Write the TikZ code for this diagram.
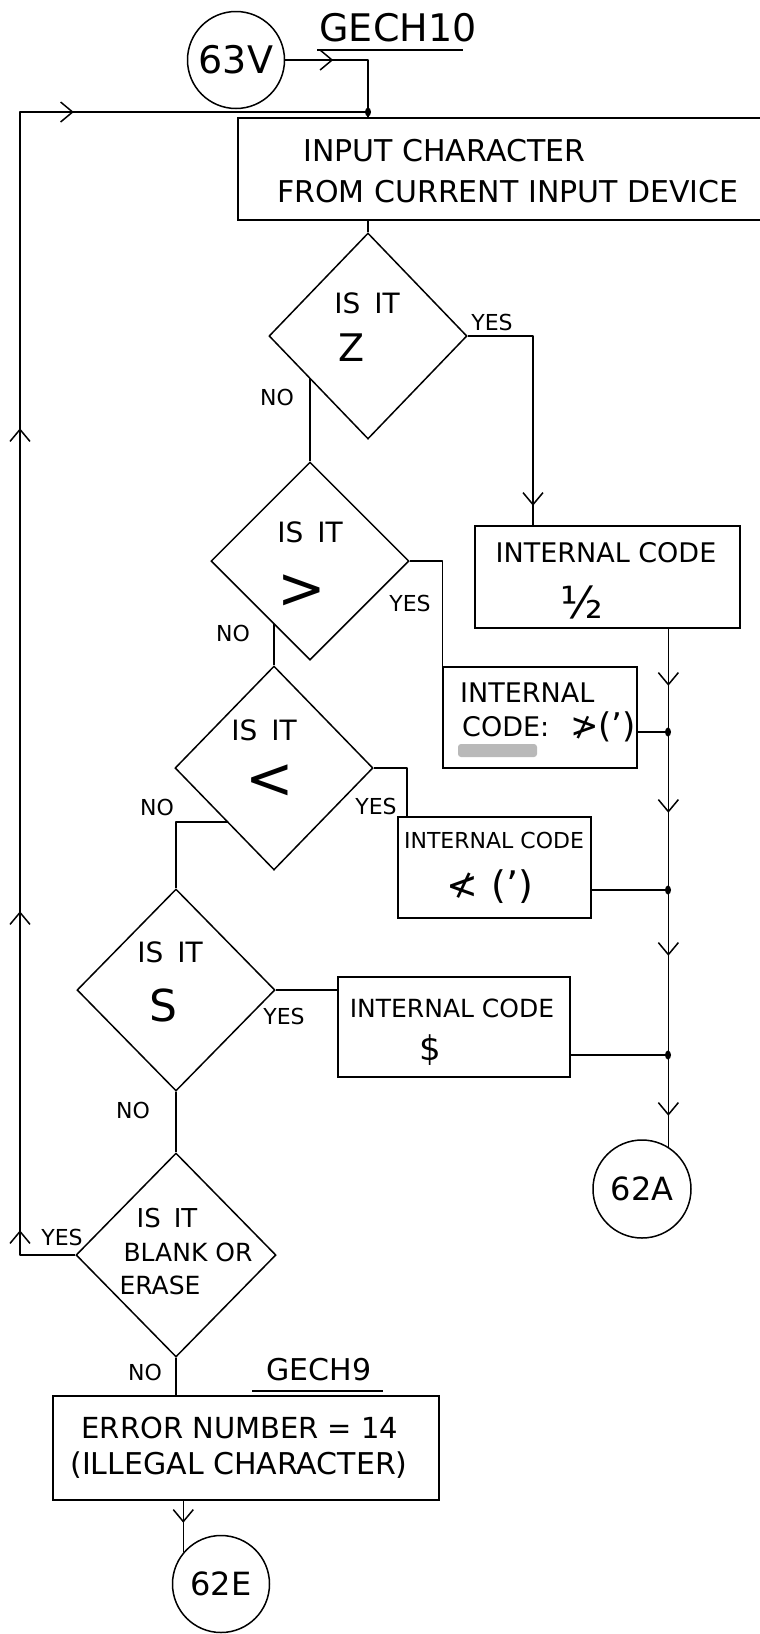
\documentclass[tikz,border=0pt]{standalone}
\usepackage{fontspec}
\setmainfont{DejaVu Sans}
\usetikzlibrary{shapes.geometric,arrows.meta,decorations.markings,backgrounds,calc}
\tikzset{
  bb/.tip={Straight Barb[length=12pt,width=20pt]},
  ln/.style={line width=1.5pt, line join=round},
  box/.style={draw, line width=1.5pt, fill=white, rectangle, inner sep=0pt},
  dia/.style={draw, line width=1.5pt, fill=white, diamond, inner sep=0pt, minimum width=198pt},
  conn/.style={draw, line width=1.5pt, circle, inner sep=0pt, fill=white},
  txt/.style={inner sep=0pt, font=\fontsize{28}{30}\selectfont},
  lbl/.style={inner sep=0pt, font=\fontsize{22}{24}\selectfont},
  jdot/.style={fill, ellipse, inner sep=0pt, minimum width=6pt, minimum height=9pt},
  arrowsat/.style={postaction={decorate}, decoration={markings,#1}}
}
\begin{document}
\begin{tikzpicture}[x=1pt,y=-1pt]
\useasboundingbox (0,0) rectangle (760,1634);

% ---------- nodes ----------
\node[conn, minimum size=97pt, font=\fontsize{38}{40}\selectfont] (c63) at (236,60) {63V};
\node[txt, font=\fontsize{38}{40}\selectfont] (gech10) at (398,28) {GECH10};
\coordinate (u1a) at (317,50);
\coordinate (u1b) at (463,50);

\node[box, minimum width=537pt, minimum height=102pt] (b1) at (506.5,169) {};
\node[txt, anchor=west, font=\fontsize{30}{32}\selectfont] (t1a) at (303,151) {INPUT CHARACTER};
\node[txt, anchor=west, font=\fontsize{30}{32}\selectfont] (t1b) at (277,192) {FROM CURRENT INPUT DEVICE};

\coordinate (jt) at (368,60);
\coordinate (lt) at (20,112);
\node[jdot] (j0) at (368,112) {};

% decision 1
\node[dia, minimum height=206pt] (d1) at (368,336) {};
\node[txt] (d1a) at (367,303) {IS\enspace IT};
\node[txt, font=\fontsize{38}{40}\selectfont] (d1b) at (352,348) {Z};
\node[lbl] (y1) at (492,322) {YES};
\node[lbl] (n1) at (277,397) {NO};
\coordinate (y1c) at (533,336);

\node[box, minimum width=265pt, minimum height=102pt] (b2) at (607.5,577) {};
\node[txt, font=\fontsize{27}{29}\selectfont] (b2a) at (606,553) {INTERNAL CODE};
\node[txt, font=\fontsize{44}{46}\selectfont] (b2b) at (582,602) {½};

% decision 2
\node[dia, minimum height=198pt] (d2) at (310,561) {};
\node[txt] (d2a) at (310,532) {IS\enspace IT};
\node[txt, font=\fontsize{58}{60}\selectfont] (d2b) at (302,592) {>};
\node[lbl] (y2) at (410,603) {YES};
\node[lbl] (n2) at (233,633) {NO};

\node[box, minimum width=194pt, minimum height=101pt] (b3) at (540,717.5) {};
\node[txt, anchor=west, font=\fontsize{27}{29}\selectfont] (b3a) at (460,693) {INTERNAL};
\node[txt, anchor=west, font=\fontsize{27}{29}\selectfont] (b3b) at (462,727) {CODE:};
\node[txt, font=\fontsize{34}{36}\selectfont] (b3c) at (603,727) {≯(')};
\fill[gray!55, rounded corners=3pt] (458,744) rectangle (537,757);

% decision 3
\node[dia, minimum height=204pt] (d3) at (274,768) {};
\node[txt] (d3a) at (264,730) {IS\enspace IT};
\node[txt, font=\fontsize{58}{60}\selectfont] (d3b) at (270,782) {<};
\node[lbl] (y3) at (376,806) {YES};
\node[lbl] (n3) at (157,807) {NO};
\coordinate (y3c) at (407,768);

\node[box, minimum width=193pt, minimum height=101pt] (b4) at (494.5,867.5) {};
\node[txt, font=\fontsize{22}{24}\selectfont] (b4a) at (494,840) {INTERNAL CODE};
\node[txt, font=\fontsize{38}{40}\selectfont] (b4b) at (490,887) {≮\,\,(')};

% decision 4
\node[dia, minimum height=202pt] (d4) at (176,990) {};
\node[txt] (d4a) at (170,952) {IS\enspace IT};
\node[txt, font=\fontsize{44}{46}\selectfont] (d4b) at (163,1005) {S};
\node[lbl] (y4) at (284,1016) {YES};
\node[lbl] (n4) at (133,1110) {NO};

\node[box, minimum width=232pt, minimum height=100pt] (b5) at (454,1027) {};
\node[txt, font=\fontsize{25}{27}\selectfont] (b5a) at (452,1008) {INTERNAL CODE};
\node[txt, font=\fontsize{34}{36}\selectfont] (b5b) at (430,1050) {\$};

\node[conn, minimum size=98pt, font=\fontsize{32}{34}\selectfont] (c62A) at (642,1189) {62A};

\node[jdot] (j1) at (668,732) {};
\node[jdot] (j2) at (668,890) {};
\node[jdot] (j3) at (668,1055) {};

% decision 5
\node[dia, minimum width=200pt, minimum height=204pt] (d5) at (176,1255) {};
\node[txt, font=\fontsize{26}{28}\selectfont] (d5a) at (167,1218) {IS\enspace IT};
\node[txt, font=\fontsize{25}{27}\selectfont] (d5b) at (188,1252) {BLANK OR};
\node[txt, font=\fontsize{25}{27}\selectfont] (d5c) at (160,1285) {ERASE};
\node[lbl] (y5) at (62,1237) {YES};
\node[lbl] (n5) at (145,1372) {NO};

\node[txt, font=\fontsize{30}{32}\selectfont] (gech9) at (319,1370) {GECH9};
\coordinate (u2a) at (252,1391);
\coordinate (u2b) at (383,1391);

\node[box, minimum width=386pt, minimum height=104pt] (err) at (246,1448) {};
\node[txt, font=\fontsize{29}{31}\selectfont] (e1) at (240,1428) {ERROR NUMBER = 14};
\node[txt, font=\fontsize{30}{32}\selectfont] (e2) at (239,1465) {(ILLEGAL CHARACTER)};

\node[conn, minimum size=97pt, font=\fontsize{32}{34}\selectfont] (c62E) at (221,1584) {62E};

\draw[ln] (u1a) -- (u1b);
\draw[ln] (u2a) -- (u2b);

% ---------- connectors ----------
\begin{pgfonlayer}{background}
\draw[ln, arrowsat={mark=at position 48pt with {\arrow{bb}}}]
  (c63.east) -- (jt) -- (jt |- b1.north);
\draw[ln, arrowsat={mark=at position 80pt with {\arrow{bb}},
                    mark=at position 399pt with {\arrow{bb}},
                    mark=at position 882pt with {\arrow{bb}},
                    mark=at position 1252pt with {\arrow{bb}}}]
  (d5.west) -- (d5.west -| lt) -- (lt) -- (j0);
\draw[ln] (jt |- b1.south) -- (d1.north);
\draw[ln, arrowsat={mark=at position 235pt with {\arrow{bb}}}]
  (d1.east) -- (y1c) -- (y1c |- b2.north);
\draw[ln] (d1.center -| d2.north) -- (d2.north);
\draw[ln] (d2.east) -| (b3.north west);
\draw[ln] (d2.center -| d3.north) -- (d3.north);
\draw[ln] (d3.east) -- (y3c) -- (y3c |- b4.north);
\draw[ln] (d4.north) |- ($(d3.center)+(0,54)$);
\draw[ln] (d4.east) -- (d4.east -| b5.west);
\draw[ln] (d4.south) -- (d5.north);
\draw[ln] (d5.south) -- (d5.south |- err.north);
\draw[ln, arrowsat={mark=at position 22pt with {\arrow{bb}}}]
  (c62E.140 |- err.south) -- (c62E.140);
\draw[ln, arrowsat={mark=at position 57pt with {\arrow{bb}},
                    mark=at position 184pt with {\arrow{bb}},
                    mark=at position 327pt with {\arrow{bb}},
                    mark=at position 487pt with {\arrow{bb}}}]
  (c62A.58 |- b2.south) -- (c62A.58);
\draw[ln] (b3.east |- j1) -- (j1);
\draw[ln] (b4.east |- j2) -- (j2);
\draw[ln] (b5.east |- j3) -- (j3);
\end{pgfonlayer}
\end{tikzpicture}
\end{document}
